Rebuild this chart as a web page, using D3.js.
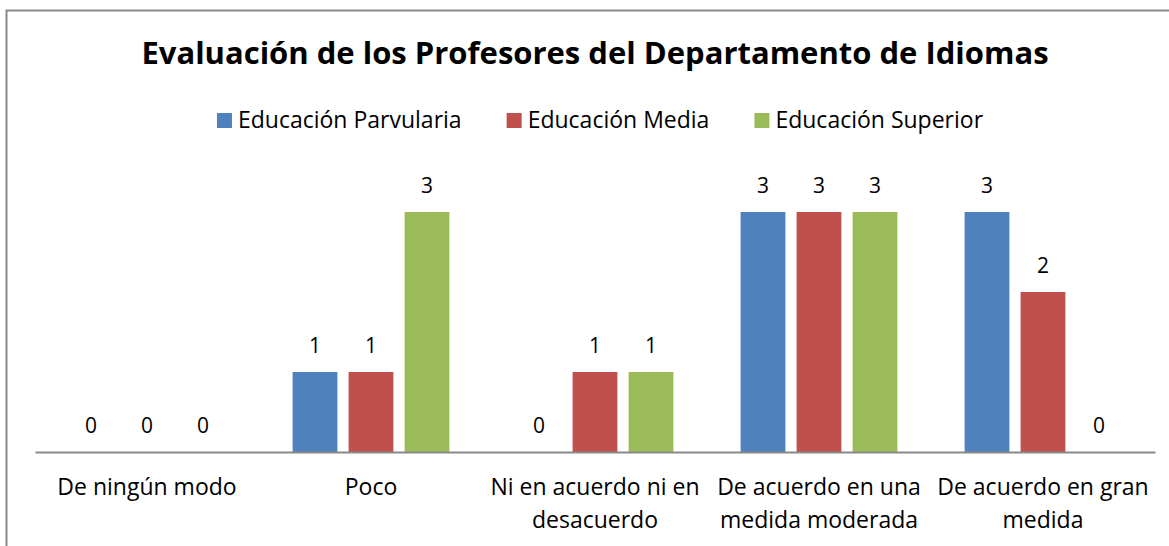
<!DOCTYPE html>
<html>
<head>
<meta charset="utf-8">
<script src="https://cdn.jsdelivr.net/npm/d3@7"></script>
<style>
	body { margin: 0; background: #fff; }
	svg text { font-family: "Open Sans", sans-serif; fill: #000; }
</style>
</head>
<body>
<div id="chart_container"></div>
<script>
// data
// ----------------------------------------
var categories = [
	["De ningún modo"],
	["Poco"],
	["Ni en acuerdo ni en", "desacuerdo"],
	["De acuerdo en una", "medida moderada"],
	["De acuerdo en gran", "medida"]
];
var series_names = ["Educación Parvularia", "Educación Media", "Educación Superior"];
var parvularia = [0, 1, 0, 3, 3];
var media = [0, 1, 1, 3, 2];
var superior = [0, 3, 1, 3, 0];
var colors = ["#4F81BD", "#C0504D", "#9BBB59"];

// main variables
// ----------------------------------------
var width = 1169, height = 546;
var plot_left = 35, plot_right = 1155,
	baseline = 452, top_y = 212;

var svg = d3.select("#chart_container")
	.append("svg")
	.attr("width", width)
	.attr("height", height);

// chart border (left + top only visible)
svg.append("path")
	.attr("d", "M6.5," + height + "V10.5H" + width)
	.attr("fill", "none")
	.attr("stroke", "#898989")
	.attr("stroke-width", 2);

// title
svg.append("text")
	.attr("x", 595)
	.attr("y", 64)
	.attr("text-anchor", "middle")
	.style("font-weight", "bold")
	.style("font-size", "31px")
	.text("Evaluación de los Profesores del Departamento de Idiomas");

// scales
var x = d3.scaleBand()
	.domain(d3.range(categories.length))
	.range([plot_left, plot_right]);

var x_inner = d3.scaleBand()
	.domain(d3.range(series_names.length))
	.range([0, x.bandwidth()])
	.paddingInner(0.2)
	.paddingOuter(0.6);

var y = d3.scaleLinear()
	.domain([0, 3])
	.range([baseline, top_y]);

var all_series = [parvularia, media, superior];

// bars + labels
all_series.forEach(function(values, s){
	var g = svg.append("g").attr("class", "series");
	g.selectAll("rect")
		.data(values)
		.enter()
		.append("rect")
		.attr("x", function(d, i){ return x(i) + x_inner(s); })
		.attr("y", function(d){ return y(d); })
		.attr("width", x_inner.bandwidth())
		.attr("height", function(d){ return y(0) - y(d); })
		.attr("fill", colors[s]);

	g.selectAll("text")
		.data(values)
		.enter()
		.append("text")
		.attr("x", function(d, i){ return x(i) + x_inner(s) + x_inner.bandwidth() / 2; })
		.attr("y", function(d){ return y(d) - 19; })
		.attr("text-anchor", "middle")
		.style("font-size", "21px")
		.text(function(d){ return d; });
});

// x axis
var x_axis = svg.append("g")
	.attr("transform", "translate(0," + baseline + ")")
	.call(d3.axisBottom(x).tickSize(0).tickFormat(""));
x_axis.select(".domain")
	.attr("stroke", "#898989")
	.attr("stroke-width", 2);

var cat_labels = svg.append("g").attr("class", "cat_labels");
categories.forEach(function(lines, i){
	var t = cat_labels.append("text")
		.attr("x", x(i) + x.bandwidth() / 2)
		.attr("y", 495)
		.attr("text-anchor", "middle")
		.style("font-size", "23px");
	lines.forEach(function(l, j){
		t.append("tspan")
			.attr("x", x(i) + x.bandwidth() / 2)
			.attr("dy", j == 0 ? 0 : 33)
			.text(l);
	});
});

// legend
var legend = svg.append("g").attr("class", "legend");
var lx = 0;
series_names.forEach(function(name, s){
	var item = legend.append("g");
	item.append("rect")
		.attr("x", 0).attr("y", -15)
		.attr("width", 15).attr("height", 15)
		.attr("fill", colors[s]);
	var txt = item.append("text")
		.attr("x", 21).attr("y", 0)
		.style("font-size", "23px")
		.text(name);
	var w = 21 + txt.node().getComputedTextLength();
	item.attr("transform", "translate(" + lx + ",0)");
	lx += w + 45;
});
lx -= 45;
legend.attr("transform", "translate(" + (600 - lx / 2) + ",128)");
</script>
</body>
</html>
